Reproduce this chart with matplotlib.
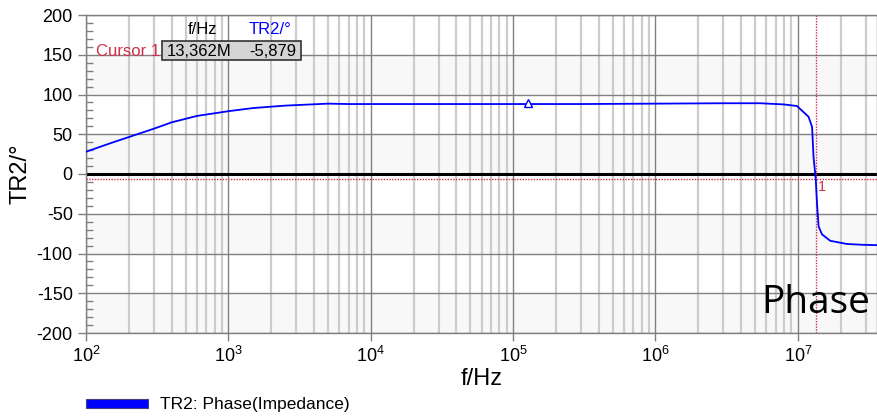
import math
import matplotlib
matplotlib.use("Agg")
import matplotlib.pyplot as plt
from matplotlib.patches import Rectangle
from matplotlib.ticker import FixedLocator, LogLocator, NullFormatter, FuncFormatter

plt.rcParams['font.family'] = ['Liberation Sans', 'DejaVu Sans']
plt.rcParams['mathtext.fontset'] = 'custom'
plt.rcParams['mathtext.rm'] = 'Liberation Sans'
plt.rcParams['mathtext.it'] = 'Liberation Sans'
plt.rcParams['axes.unicode_minus'] = False

# Phase of impedance vs frequency
freq_hz = [100, 150, 200, 300, 400, 600, 1000, 1500, 2500, 5000, 7000, 1e4,
           3e4, 1e5, 3e5, 1e6, 3e6, 5.46e6, 8e6, 9.87e6, 1.05e7, 1.19e7,
           1.26e7, 1.29e7, 1.3362e7, 1.365e7, 1.40e7, 1.48e7, 1.69e7,
           2.21e7, 2.8e7, 3.6e7]
phase_deg = [28, 39, 46.5, 57, 65, 73, 79, 83, 86, 88.5, 88, 88,
             88, 88, 88, 88.5, 89, 89, 87.5, 85.5, 81, 72,
             59, 21, -5.879, -38, -66, -76, -84,
             -88, -89, -89.5]

cursor_f = 1.3362e7
cursor_v = -5.879
marker_f = 1.28e5
marker_v = 88

y_ticks = [-200, -150, -100, -50, 0, 50, 100, 150, 200]
x_decades = [1e2, 1e3, 1e4, 1e5, 1e6, 1e7]

blue = '#0000ff'
red = '#d0304a'
grid_dark = '#808080'
grid_light = '#cccccc'

fig = plt.figure(figsize=(8.77, 4.18), dpi=100)
ax = fig.add_axes([86 / 877, 1 - 333 / 418, 1 - 86 / 877, (333 - 15) / 418])
ax.set_xscale('log')
ax.set_xlim(100, 3.6e7)
ax.set_ylim(-200, 200)

# alternating bands
for lo in (100, 0, -100, -200):
    ax.axhspan(lo, lo + 50, color='#f8f8f8', zorder=0, lw=0)

# grid
ax.xaxis.set_major_locator(FixedLocator(x_decades))
ax.xaxis.set_minor_locator(LogLocator(base=10, subs=range(2, 10)))
ax.xaxis.set_minor_formatter(NullFormatter())
ax.yaxis.set_major_locator(FixedLocator(y_ticks))
ax.yaxis.set_minor_locator(FixedLocator(list(range(-200, 201, 10))))
ax.grid(which='major', axis='both', color=grid_dark, lw=1.0, zorder=1)
ax.grid(which='minor', axis='x', color=grid_light, lw=1.6, zorder=1)
ax.set_axisbelow(True)

ax.axhline(0, color='black', lw=2.2, zorder=2)

# cursor
ax.axhline(cursor_v, color=red, lw=1.0, ls=(0, (1, 1)), zorder=3)
ax.axvline(cursor_f, color=red, lw=1.0, ls=(0, (1, 1)), zorder=3)
ax.text(cursor_f * 1.04, cursor_v - 2, '1', color=red, fontsize=10.5,
        ha='left', va='top', zorder=4)

ax.plot(freq_hz, phase_deg, color=blue, lw=1.3, zorder=5)
ax.plot([marker_f], [marker_v + 1.5], marker='^', ms=6, mfc='white',
        mec=blue, mew=1.0, ls='none', zorder=6)

for s in ax.spines.values():
    s.set_color(grid_dark)
    s.set_linewidth(1.0)

ax.xaxis.set_major_formatter(FuncFormatter(
    lambda v, p: r'$10^{%d}$' % round(math.log10(v))))
ax.tick_params(axis='both', which='major', labelsize=13, colors='black',
               length=6, width=1, color=grid_dark)
ax.tick_params(axis='y', which='minor', direction='in', length=5, width=1,
               color=grid_dark)
ax.tick_params(axis='x', which='minor', length=0)
ax.tick_params(axis='x', which='major', pad=3)

ax.set_ylabel('TR2/°', fontsize=17, labelpad=4)
ax.set_xlabel('f/Hz', fontsize=17, labelpad=2)

# cursor readout box
fig.text(160 / 877, 1 - 51 / 418, 'Cursor 1', color=red, fontsize=12,
         ha='right', va='center')
fig.patches.append(Rectangle((162 / 877, 1 - 60 / 418), 139 / 877, 19 / 418,
                             transform=fig.transFigure, facecolor='#d4d4d4',
                             edgecolor='#333333', lw=1.2))
fig.text(167 / 877, 1 - 51 / 418, '13,362M', fontsize=12, ha='left',
         va='center')
fig.text(296 / 877, 1 - 51 / 418, '-5,879', fontsize=12, ha='right',
         va='center')
fig.text(203 / 877, 1 - 29 / 418, 'f/Hz', fontsize=12, ha='center',
         va='center')
fig.text(270 / 877, 1 - 29 / 418, 'TR2/°', fontsize=12, ha='center',
         va='center', color=blue)

# caption inside plot
fig.text(870 / 877, 1 - 313 / 418, 'Phase', fontsize=28, ha='right',
         va='baseline', family='Open Sans')

# legend
fig.patches.append(Rectangle((86 / 877, 1 - 408 / 418), 62 / 877, 9 / 418,
                             transform=fig.transFigure, facecolor=blue,
                             edgecolor='#404080', lw=0.8))
fig.text(160 / 877, 1 - 404 / 418, 'TR2: Phase(Impedance)', fontsize=12.5,
         ha='left', va='center')

fig.savefig('out.png', dpi=100)
